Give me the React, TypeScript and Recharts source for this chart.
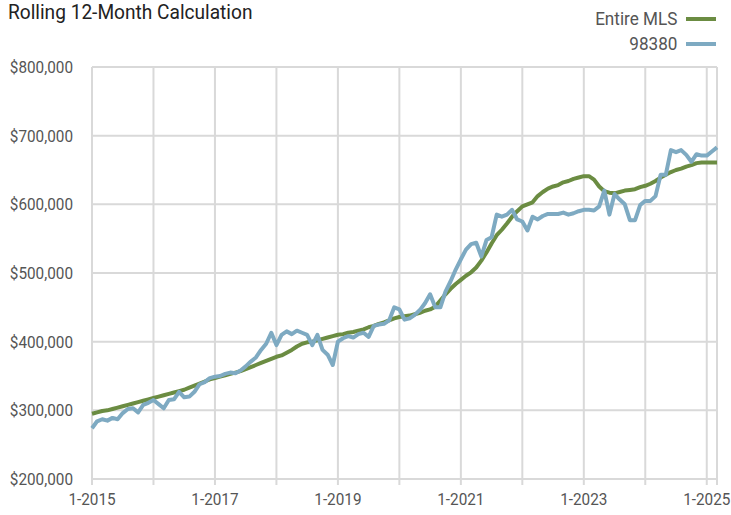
// Rolling 12-month median price — Entire MLS vs. ZIP 98380, Jan 2015 – Mar 2025.
import { LineChart, Line, XAxis, YAxis, CartesianGrid } from "recharts";

const START_YEAR = 2015;

// Values in thousands of dollars, one per month starting 1-2015.
const ENTIRE_MLS = [
  295, 297, 299, 300, 302, 304, 306, 308, 310, 312, 314, 316,
  318, 320, 322, 324, 326, 328, 330, 333, 336, 339, 342, 345,
  347, 349, 351, 353, 355, 357, 360, 363, 366, 369, 372, 375,
  378, 380, 384, 388, 393, 397, 399, 400, 402, 404, 406, 408,
  410, 411, 413, 414, 416, 418, 421, 423, 426, 428, 431, 434,
  436, 437, 438, 440, 442, 445, 447, 451, 460, 469, 477, 484,
  490, 496, 501, 508, 518, 530, 543, 555, 563, 572, 582, 590,
  597, 600, 603, 612, 618, 623, 626, 628, 632, 634, 637, 639,
  641, 641, 636, 626, 619, 617, 616, 618, 620, 621, 622, 625,
  627, 630, 634, 639, 643, 647, 650, 652, 655, 657, 660, 661,
  661, 661, 661,
];

const ZIP_98380 = [
  274, 284, 287, 285, 289, 287, 296, 302, 303, 297, 308, 311,
  315, 309, 303, 315, 316, 327, 319, 320, 327, 338, 341, 347,
  349, 350, 353, 355, 354, 358, 364, 371, 377, 388, 397, 413,
  395, 410, 415, 411, 416, 413, 410, 395, 410, 388, 381, 366,
  400, 405, 408, 406, 411, 413, 407, 423, 425, 426, 431, 450,
  447, 432, 434, 439, 446, 456, 469, 450, 450, 473, 488, 505,
  520, 534, 542, 544, 524, 548, 552, 585, 582, 585, 592, 578,
  575, 562, 582, 578, 583, 586, 586, 586, 588, 585, 587, 590,
  592, 592, 591, 597, 620, 585, 615, 607, 600, 577, 577, 599,
  605, 605, 612, 643, 643, 679, 676, 679, 672, 662, 673, 671,
  671, 677, 683,
];

const Y_TICKS = [200000, 300000, 400000, 500000, 600000, 700000, 800000];
// One vertical grid line per January, plus the right edge of the plot.
const X_TICKS = [0, 12, 24, 36, 48, 60, 72, 84, 96, 108, 120, 122];

const SERIES = [
  { key: "mls", name: "Entire MLS", color: "#6b8c42" },
  { key: "zip", name: "98380", color: "#7eaac2" },
];

const data = ENTIRE_MLS.map((v, i) => ({
  idx: i,
  mls: v * 1000,
  zip: ZIP_98380[i] * 1000,
}));

const FONT = "Roboto, 'Liberation Sans', sans-serif";
const GRID = "#d9d9d9";
const SQUEEZE = 0.9; // the original uses a condensed face

const fmtYear = (v: number) => (v % 24 === 0 && v <= 120 ? `1-${START_YEAR + v / 12}` : "");
const fmtMoney = (v: number) => `$${v.toLocaleString("en-US")}`;

// narrow tick text: draw at the tick position, squeezed horizontally
function NarrowTick(props: any) {
  const { x, y, payload, textAnchor, vertical, formatter } = props;
  const label = formatter(payload.value);
  if (!label) return null;
  return (
    <g transform={`translate(${x},${y})`}>
      <text
        transform={`scale(${SQUEEZE},1)`}
        textAnchor={textAnchor}
        dy={vertical ? "0.36em" : "0.71em"}
        fill="#555"
        fontSize={17}
        fontFamily={FONT}
      >
        {label}
      </text>
    </g>
  );
}

export default function App() {
  return (
    <div style={{ position: "absolute", left: 0, top: 0, width: 731, height: 515, background: "#fff", fontFamily: FONT }}>
      <div
        style={{
          position: "absolute",
          left: 8,
          top: 0,
          fontSize: 21,
          color: "#222",
          lineHeight: "24px",
          whiteSpace: "nowrap",
          transform: "scaleX(0.91)",
          transformOrigin: "left top",
        }}
      >
        Rolling 12-Month Calculation
      </div>
      {/* legend, right-aligned column */}
      <div style={{ position: "absolute", right: 15, top: 6 }}>
        {SERIES.map((s) => (
          <div key={s.key} style={{ display: "flex", justifyContent: "flex-end", alignItems: "center", height: 25 }}>
            <span
              style={{
                fontSize: 19,
                color: "#555",
                whiteSpace: "nowrap",
                display: "inline-block",
                transform: "scaleX(0.9)",
                transformOrigin: "right center",
              }}
            >
              {s.name}
            </span>
            <span style={{ display: "inline-block", width: 30, height: 4, marginLeft: 9, background: s.color }} />
          </div>
        ))}
      </div>
      <LineChart width={731} height={515} data={data} margin={{ top: 67, right: 14, bottom: 0, left: 0 }}>
        <CartesianGrid stroke={GRID} strokeWidth={2} />
        <XAxis
          dataKey="idx"
          type="number"
          domain={[0, 122]}
          ticks={X_TICKS}
          tick={<NarrowTick formatter={fmtYear} />}
          height={36}
          stroke={GRID}
          strokeWidth={2}
          tickSize={6}
          tickMargin={8}
          interval={0}
        />
        <YAxis
          domain={[200000, 800000]}
          ticks={Y_TICKS}
          tick={<NarrowTick formatter={fmtMoney} vertical />}
          width={92}
          axisLine={false}
          tickLine={false}
          tickSize={0}
          tickMargin={19}
          interval={0}
        />
        {SERIES.map((s) => (
          <Line
            key={s.key}
            type="linear"
            dataKey={s.key}
            name={s.name}
            stroke={s.color}
            strokeWidth={4}
            strokeLinejoin="round"
            dot={false}
            isAnimationActive={false}
          />
        ))}
      </LineChart>
    </div>
  );
}
